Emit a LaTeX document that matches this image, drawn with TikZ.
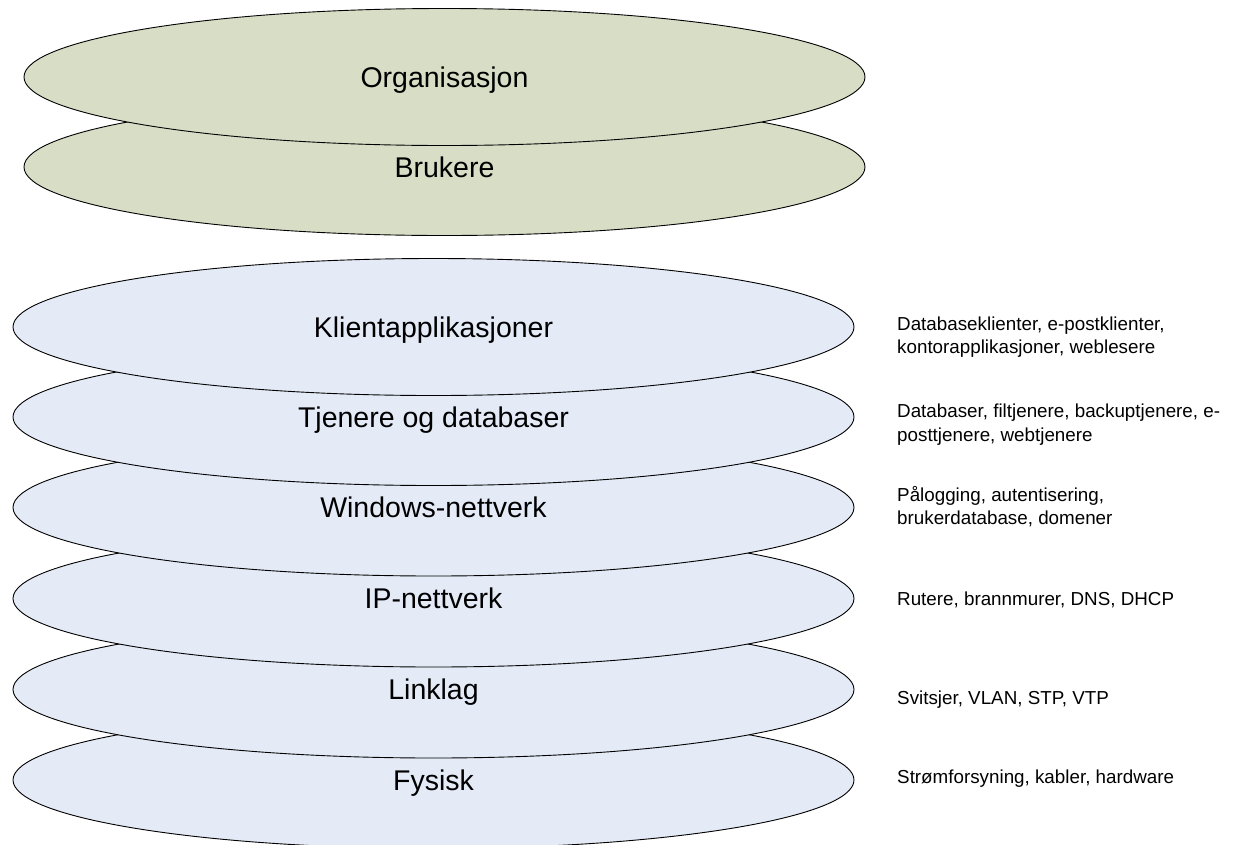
\documentclass[tikz,border=0pt]{standalone}
\usepackage{fontspec}
\setmainfont{Liberation Sans}
\usetikzlibrary{shapes.geometric}
\definecolor{layergreen}{RGB}{216,222,198}
\definecolor{layerblue}{RGB}{228,235,247}
\begin{document}
\begin{tikzpicture}[x=1pt,y=-1pt,
  layer/.style={ellipse, draw=black, line width=0.9pt, minimum width=841pt,
    minimum height=137pt, inner sep=0pt, font=\fontsize{28.5}{34}\selectfont,
    text height=20.5pt, text depth=0pt},
  greenlayer/.style={layer, fill=layergreen},
  bluelayer/.style={layer, fill=layerblue},
  note/.style={anchor=base west, inner sep=0pt, font=\fontsize{18.8}{23.7}\selectfont}]
\useasboundingbox (0,0) rectangle (1241,844);
% green layers
\node[greenlayer] (bru) at (444.5,167) {Brukere};
\node[greenlayer] (org) at (444.5,77) {Organisasjon};
% blue layers (bottom first)
\node[bluelayer] (fys) at (433.5,780) {Fysisk};
\node[bluelayer] (link) at (433.5,689.5) {Linklag};
\node[bluelayer] (ip) at (433.5,598.5) {IP-nettverk};
\node[bluelayer] (win) at (433.5,507.5) {Windows-nettverk};
\node[bluelayer] (tj) at (433.5,417) {Tjenere og databaser};
\node[bluelayer] (kli) at (433.5,327) {Klientapplikasjoner};
% notes
\node[note] (nkli) at (897,330) {\begin{tabular}[t]{@{}l@{}}Databaseklienter, e-postklienter,\\kontorapplikasjoner, weblesere\end{tabular}};
\node[note] (ntj) at (897,417.7) {\begin{tabular}[t]{@{}l@{}}Databaser, filtjenere, backuptjenere, e-\\posttjenere, webtjenere\end{tabular}};
\node[note] (nwin) at (897,501) {\begin{tabular}[t]{@{}l@{}}Pålogging, autentisering,\\brukerdatabase, domener\end{tabular}};
\node[note] (nip) at (897,605) {Rutere, brannmurer, DNS, DHCP};
\node[note] (nlink) at (897,704) {Svitsjer, VLAN, STP, VTP};
\node[note] (nfys) at (897,783) {Strømforsyning, kabler, hardware};
\end{tikzpicture}
\end{document}
